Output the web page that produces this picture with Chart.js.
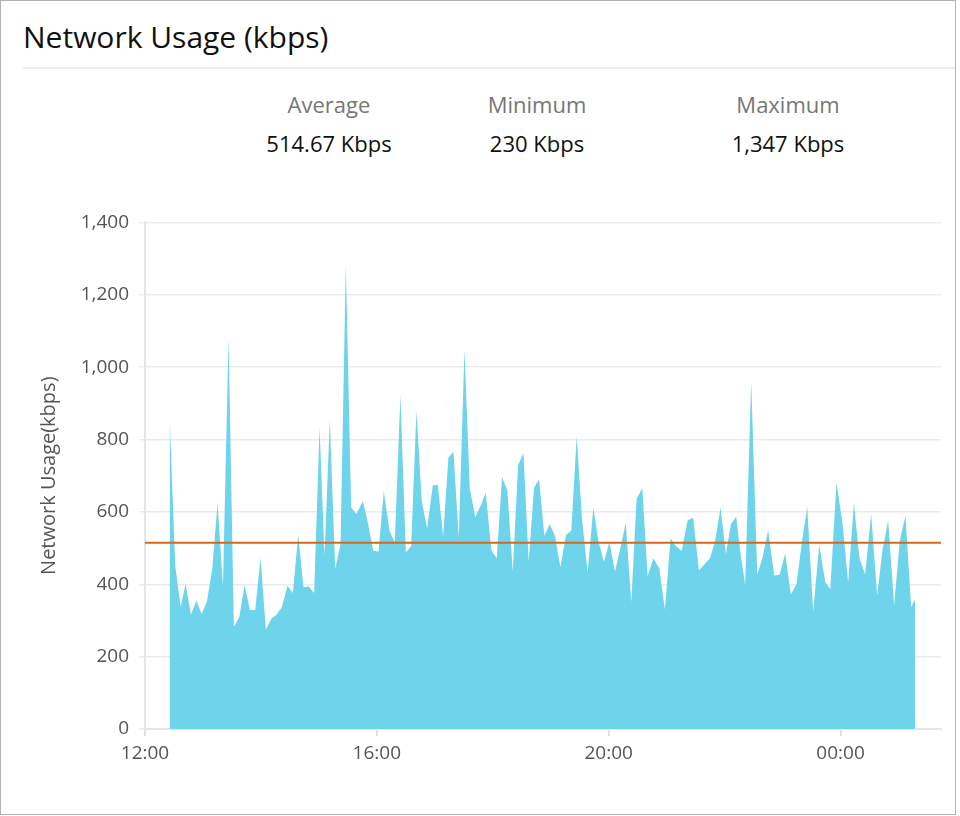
<!DOCTYPE html>
<html>
<head>
<meta charset="utf-8">
<title>Network Usage (kbps)</title>
<script src="https://cdn.jsdelivr.net/npm/chart.js@4.4.1/dist/chart.umd.min.js"></script>
<style>
    html, body { margin: 0; padding: 0; background: #fff; }
    body { width: 960px; height: 816px; overflow: hidden; position: relative; font-family: "Open Sans", Lato, sans-serif; }
    .card { position: absolute; left: 0; top: 0; width: 954px; height: 813px; border: 1.5px solid #b3b3b3; }
    .card-title { position: absolute; left: 22px; top: 21px; font-size: 30px; line-height: 30px; color: #111; }
    .card-sep { position: absolute; left: 22px; right: 0; top: 66px; height: 2px; background: #eeeeee; }
    .stat { position: absolute; width: 220px; margin-left: -110px; text-align: center; font-size: 22px; line-height: 22px; }
    .stat .lbl { position: absolute; left: 0; right: 0; top: 92px; color: #777; }
    .stat .val { position: absolute; left: 0; right: 0; top: 131px; color: #111; }
    .chart-box { position: absolute; left: 0; top: 200px; width: 960px; height: 580px; }
</style>
</head>
<body>
<div class="card">
    <div class="card-title">Network Usage (kbps)</div>
    <div class="card-sep"></div>
    <div id="stats"></div>
    <div class="chart-box"><canvas id="usageChart"></canvas></div>
</div>
<script>
// Summary figures shown above the chart
const statLabels = ['Average', 'Minimum', 'Maximum'];
const statValues = ['514.67 Kbps', '230 Kbps', '1,347 Kbps'];
const statCenters = [328, 536, 787];
const averageKbps = 514.67;

// Sample times, in minutes after 12:00
const sampleMinutes = [
    25.5, 31.3, 36.9, 42.0, 47.6, 53.1, 58.6, 64.1, 69.6, 75.1,
    80.7, 86.5, 92.0, 97.6, 103.1, 108.6, 114.1, 119.6, 125.1, 130.7,
    136.2, 141.7, 147.5, 153.1, 158.6, 164.1, 169.6, 175.1, 180.7, 185.8,
    191.3, 196.9, 202.4, 207.9, 213.4, 218.9, 225.5, 230.7, 236.2, 241.7,
    247.2, 253.1, 258.6, 264.4, 270.0, 275.5, 281.0, 286.5, 292.0, 297.9,
    303.1, 308.6, 314.1, 319.3, 324.8, 330.7, 336.2, 342.0, 347.6, 352.7,
    358.6, 364.1, 369.6, 375.1, 380.7, 386.2, 391.7, 397.2, 402.7, 407.9,
    413.4, 418.9, 424.4, 430.0, 435.8, 441.3, 446.9, 452.4, 458.2, 464.1,
    469.6, 475.1, 480.7, 486.5, 492.0, 497.6, 503.4, 508.9, 514.8, 520.3,
    526.2, 532.4, 538.2, 544.1, 549.6, 555.5, 561.7, 567.5, 573.4, 579.3,
    584.8, 590.0, 595.8, 601.3, 606.5, 612.0, 616.1, 621.3, 627.5, 633.8,
    639.3, 645.1, 651.3, 656.9, 662.7, 668.6, 674.4, 680.0, 685.5, 691.7,
    697.9, 704.3, 709.4, 715.8, 722.0, 727.9, 733.8, 739.6, 745.5, 751.7,
    757.9, 763.4, 769.3, 775.5, 781.3, 787.2, 793.1, 797.2
];

// Network usage samples (kbps)
const usageKbps = [
    861, 451, 337, 401, 316, 355, 318, 352, 442, 624,
    394, 1082, 282, 309, 398, 329, 329, 474, 274, 305,
    316, 337, 396, 376, 537, 392, 394, 376, 832, 479,
    853, 442, 511, 1282, 612, 594, 630, 571, 493, 490,
    658, 548, 516, 924, 488, 505, 878, 630, 554, 673,
    675, 532, 750, 766, 527, 1049, 664, 586, 618, 653,
    493, 472, 696, 660, 435, 728, 763, 462, 667, 690,
    534, 566, 534, 447, 536, 548, 809, 580, 433, 612,
    516, 462, 517, 435, 499, 569, 350, 637, 665, 422,
    472, 444, 330, 527, 506, 492, 577, 584, 438, 456,
    472, 517, 612, 483, 566, 587, 493, 398, 962, 426,
    474, 550, 424, 426, 485, 372, 401, 516, 614, 323,
    509, 405, 387, 681, 569, 405, 624, 472, 428, 594,
    369, 494, 577, 341, 520, 589, 337, 357
];

// Axis range: 12:00 up to about 01:44, labels every 4 hours
const xMaxMinute = 824;
const xTickStep = 240;
const yTicks = [0, 200, 400, 600, 800, 1000, 1200, 1400];

document.addEventListener('DOMContentLoaded', () => {
    renderStats();
    createUsageChart();
});

function renderStats() {
    const box = document.getElementById('stats');
    statLabels.forEach((label, i) => {
        const el = document.createElement('div');
        el.className = 'stat';
        el.style.left = statCenters[i] + 'px';
        el.innerHTML = `<div class="lbl">${label}</div><div class="val">${statValues[i]}</div>`;
        box.appendChild(el);
    });
}

function formatHour(minutes) {
    const h = Math.floor(12 + minutes / 60) % 24;
    return String(h).padStart(2, '0') + ':00';
}

function createUsageChart() {
    const ctx = document.getElementById('usageChart').getContext('2d');
    const points = usageKbps.map((v, i) => ({ x: sampleMinutes[i], y: v }));
    const tickFont = { family: '"Open Sans", Lato, sans-serif', size: 19 };

    new Chart(ctx, {
        type: 'line',
        data: {
            datasets: [{
                label: 'Average',
                data: [{ x: 0, y: averageKbps }, { x: xMaxMinute, y: averageKbps }],
                borderColor: '#d4691e',
                borderWidth: 2,
                pointRadius: 0,
                fill: false
            }, {
                label: 'Network Usage',
                data: points,
                backgroundColor: 'rgba(104, 211, 234, 0.97)',
                borderColor: 'rgba(0,0,0,0)',
                borderWidth: 0,
                pointRadius: 0,
                tension: 0,
                fill: 'origin'
            }]
        },
        options: {
            responsive: true,
            maintainAspectRatio: false,
            animation: false,
            layout: { padding: { left: 0, right: 20, top: 20, bottom: 12 } },
            plugins: {
                legend: { display: false },
                tooltip: { enabled: false }
            },
            scales: {
                x: {
                    type: 'linear',
                    min: 0,
                    max: xMaxMinute,
                    afterFit: s => { s.height = 40; },
                    ticks: {
                        stepSize: xTickStep,
                        includeBounds: false,
                        maxRotation: 0,
                        padding: 6,
                        color: '#555',
                        font: tickFont,
                        callback: v => formatHour(v)
                    },
                    grid: { drawOnChartArea: false, color: '#e2e2e2', lineWidth: 2, tickLength: 7 },
                    border: { color: '#e6e6e6', width: 2 }
                },
                y: {
                    min: 0,
                    max: 1400,
                    afterFit: s => { s.width = 144; },
                    afterBuildTicks: s => { s.ticks = yTicks.map(v => ({ value: v })); },
                    ticks: {
                        padding: 10,
                        color: '#555',
                        font: tickFont,
                        callback: v => v.toLocaleString('en-US')
                    },
                    grid: { color: '#ebebeb', lineWidth: 1.5, tickLength: 6 },
                    border: { color: '#e6e6e6', width: 2 },
                    title: {
                        display: true,
                        text: 'Network Usage(kbps)',
                        color: '#555',
                        font: { family: '"Open Sans", Lato, sans-serif', size: 20 },
                        padding: { top: 36, bottom: 0 }
                    }
                }
            }
        }
    });
}
</script>
</body>
</html>
